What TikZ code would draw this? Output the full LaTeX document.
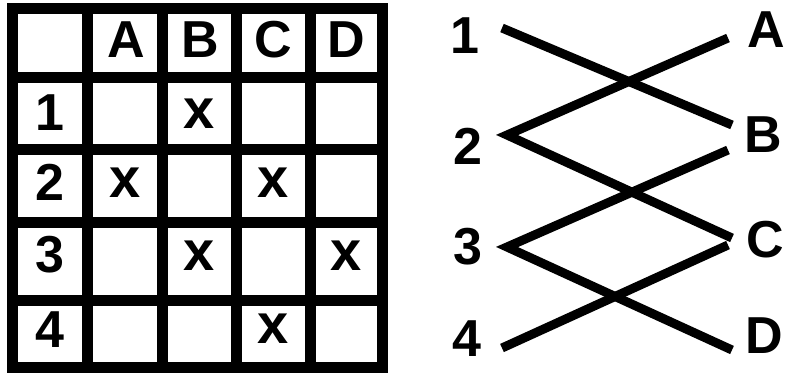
\documentclass[tikz,border=0pt]{standalone}
\usepackage{fontspec}
\setmainfont{Liberation Sans}
\begin{document}
\begin{tikzpicture}[x=1pt,y=-1pt,
  lbl/.style={font=\fontsize{52}{52}\selectfont\bfseries, inner sep=0pt, anchor=base},
  xmark/.style={font=\fontsize{56}{56}\selectfont\bfseries, inner sep=0pt, anchor=base},
  gridline/.style={line width=11pt, line cap=rect},
  edge/.style={line width=9pt, line join=miter},
]
\useasboundingbox (0,0) rectangle (788,373);
\fill[white] (0,0) rectangle (788,373);
% table grid
\foreach \gx in {12.5,87.5,162.5,236,310,382} {\draw[gridline] (\gx,8) -- (\gx,367.5);}
\foreach \gy in {8,77.5,149.5,222.5,300.5,367.5} {\draw[gridline] (12.5,\gy) -- (382,\gy);}
% headers
\node[lbl] (hA) at (126,57) {A};
\node[lbl] (hB) at (200,57) {B};
\node[lbl] (hC) at (273,57) {C};
\node[lbl] (hD) at (346.5,57) {D};
\node[lbl] (h1) at (50,130) {1};
\node[lbl] (h2) at (50,200) {2};
\node[lbl] (h3) at (50,272) {3};
\node[lbl] (h4) at (50,347) {4};
% marks
\node[xmark] (m1B) at (199,128) {x};
\node[xmark] (m2A) at (125,197) {x};
\node[xmark] (m2C) at (273,197) {x};
\node[xmark] (m3B) at (199,270) {x};
\node[xmark] (m3D) at (346.5,270) {x};
\node[xmark] (m4C) at (273,343) {x};
% graph labels
\node[lbl] (n1) at (465,53) {1};
\node[lbl] (n2) at (468,164) {2};
\node[lbl] (n3) at (468,264) {3};
\node[lbl] (n4) at (467,356) {4};
\node[lbl] (nA) at (766,47) {A};
\node[lbl] (nB) at (763,152) {B};
\node[lbl] (nC) at (765,257) {C};
\node[lbl] (nD) at (764,353) {D};
% endpoints
\coordinate (p1) at (502,28);
\coordinate (p2) at (507,135);
\coordinate (p3) at (507,247);
\coordinate (p4) at (502,348);
\coordinate (qA) at (728,38);
\coordinate (qB1) at (732,125);
\coordinate (qB2) at (728,150);
\coordinate (qC1) at (732,238);
\coordinate (qC2) at (728,245);
\coordinate (qD) at (732,350);
\draw[edge] (p1) -- (qB1);
\draw[edge] (qA) -- (p2) -- (qC1);
\draw[edge] (qB2) -- (p3) -- (qD);
\draw[edge] (p4) -- (qC2);
\end{tikzpicture}
\end{document}
